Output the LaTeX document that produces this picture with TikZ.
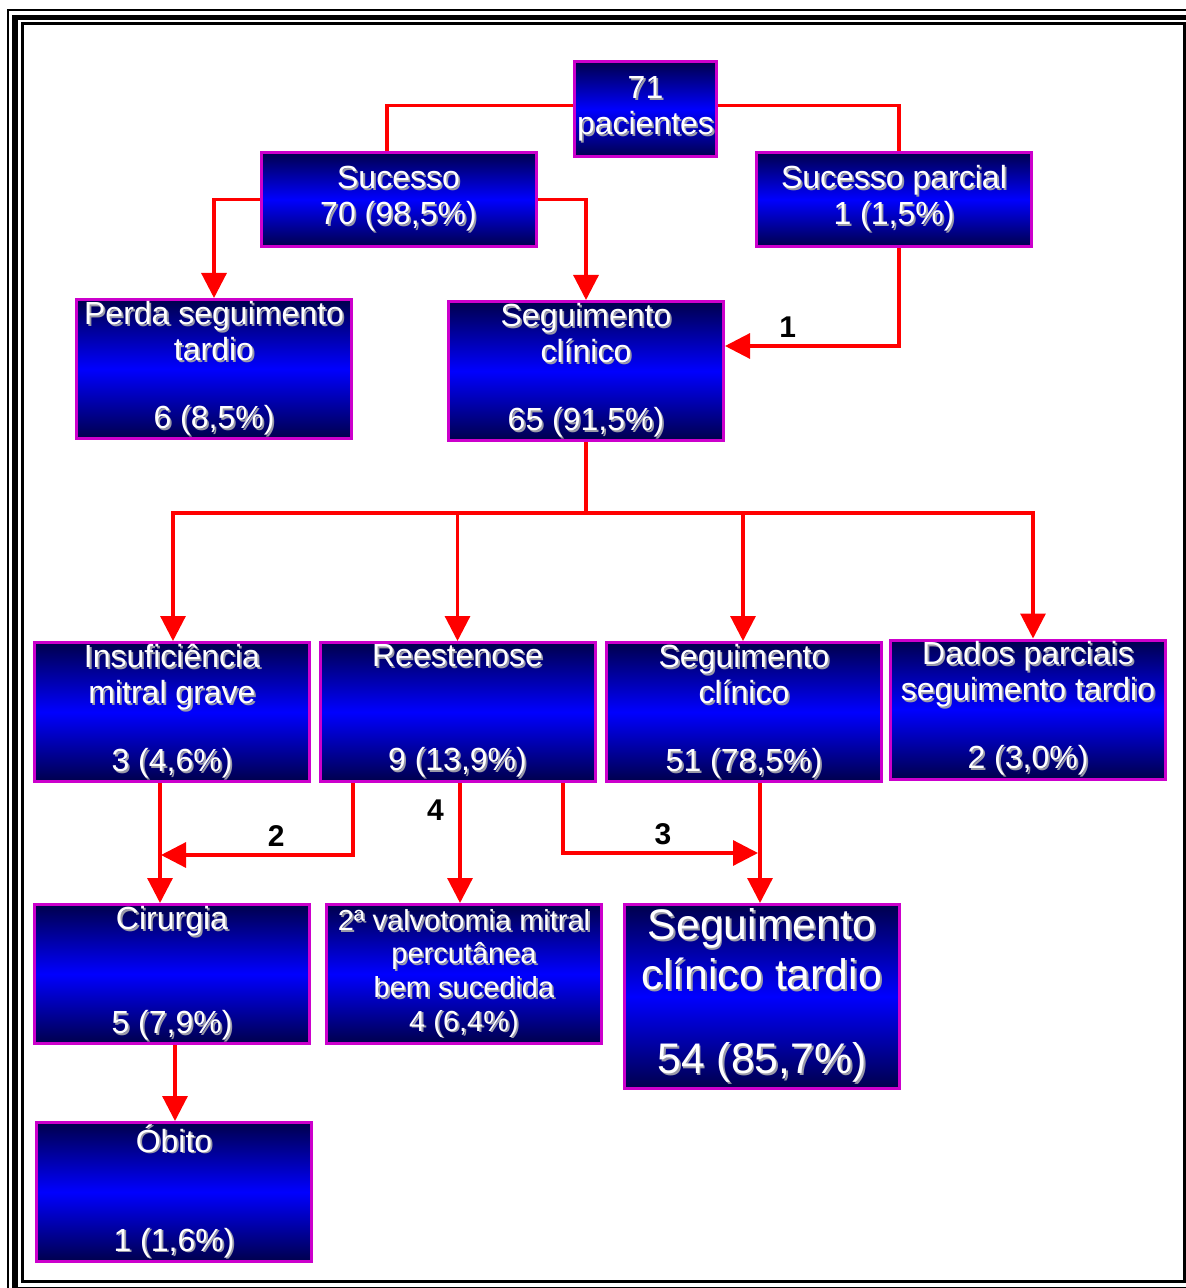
\documentclass[tikz,border=0pt]{standalone}
\usepackage{fontspec}
\setmainfont{Liberation Sans}
\usetikzlibrary{arrows.meta, calc}
\definecolor{boxnavy}{HTML}{00004C}
\definecolor{boxblue}{HTML}{0000FF}
\definecolor{boxrim}{HTML}{CC00CC}
\definecolor{linkred}{HTML}{FF0000}
\definecolor{shadegray}{HTML}{9A9AA8}
% white text with a small grey drop shadow
\newcommand\shd[1]{\rlap{\hspace{0.9pt}\raisebox{-0.9pt}{\color{shadegray}#1}}#1}

\begin{document}
\begin{tikzpicture}[x=0.5pt, y=-0.5pt,
    box/.style={rectangle, draw=boxrim, line width=1.5pt,
                top color=boxnavy, bottom color=boxnavy, middle color=boxblue,
                minimum width=137.5pt, minimum height=69.5pt, inner sep=0pt,
                align=center, text=white, font=\fontsize{16pt}{18pt}\selectfont},
    link/.style={line width=1.6pt, color=linkred},
    arr/.style={link, -{Triangle[length=12.5pt, width=12.5pt]}},
    num/.style={font=\fontsize{15pt}{15pt}\selectfont\bfseries, text=black}
  ]
    \useasboundingbox (0,0) rectangle (1186,1288);

    %% page frame
    \draw[line width=1pt] (8,10) rectangle (1199,1297);
    \draw[line width=2.75pt] (15,17.5) rectangle (1192,1290);
    \draw[line width=1.5pt] (22,24) rectangle (1184.5,1281.5);

    %% top
    \node[box, minimum width=71pt, minimum height=47.5pt] (root) at (645.5,109.5)
        {\shd{71}\\\shd{pacientes}};
    \node[box, minimum height=47pt] (suc) at (398.5,199.5) {\shd{Sucesso}\\\shd{70 (98,5\%)}};
    \node[box, minimum height=47pt] (sucp) at (894,199.5) {\shd{Sucesso parcial}\\\shd{1 (1,5\%)}};
    \node[box] (perda) at (214,369) {\shd{Perda seguimento}\\\shd{tardio}\\[16pt]\shd{6 (8,5\%)}};
    \node[box] (seg) at (586,371) {\shd{Seguimento}\\\shd{clínico}\\[16pt]\shd{65 (91,5\%)}};

    %% second level
    \node[box] (insuf) at (172,712) {\shd{Insuficiência}\\\shd{mitral grave}\\[16pt]\shd{3 (4,6\%)}};
    \node[box] (rees) at (457.5,712) {\shd{Reestenose}\\[34pt]\shd{9 (13,9\%)}};
    \node[box] (seg51) at (744,712) {\shd{Seguimento}\\\shd{clínico}\\[16pt]\shd{51 (78,5\%)}};
    \node[box] (dados) at (1028,709.5) {\shd{Dados parciais}\\\shd{seguimento tardio}\\[16pt]\shd{2 (3,0\%)}};

    %% outcomes
    \node[box] (cir) at (172,974) {\shd{Cirurgia}\\[34pt]\shd{5 (7,9\%)}};
    \node[box, font=\fontsize{14.5pt}{16.8pt}\selectfont] (valv) at (464,974)
        {\shd{2ª valvotomia mitral}\\\shd{percutânea}\\\shd{bem sucedida}\\\shd{4 (6,4\%)}};
    \node[box, minimum height=92pt, font=\fontsize{21.4pt}{25pt}\selectfont] (segt) at (762,996.5)
        {\shd{Seguimento}\\\shd{clínico tardio}\\[17pt]\shd{54 (85,7\%)}};
    \node[box] (obito) at (174,1192) {\shd{Óbito}\\[31.5pt]\shd{1 (1,6\%)}};

    %% connectors
    \draw[link] ($(root.west)+(0,-4)$) -| ($(suc.north)+(-11.5,0)$);
    \draw[link] ($(root.east)+(0,-4)$) -| ($(sucp.north)+(5,0)$);
    \draw[arr] (suc.west) -| (perda.north);
    \draw[arr] (suc.east) -| (seg.north);
    \draw[arr] ($(sucp.south)+(5,0)$) |- ($(seg.east)+(0,-25)$)
        node[num, pos=0.82, above] (n1) {1};

    \coordinate (bus) at (586,513);
    \draw[link] (seg.south) -- (bus);
    \draw[arr] (bus) -| ($(insuf.north)+(1,0)$);
    \draw[arr] (bus) -| (rees.north);
    \draw[arr] (bus) -| ($(seg51.north)+(-1,0)$);
    \draw[arr] (bus) -| ($(dados.north)+(5,0)$);

    \draw[arr] ($(insuf.south)+(-12,0)$) -- ($(cir.north)+(-12,0)$);
    \draw[arr] ($(rees.south)+(-104.5,0)$) |- ($(cir.north)+(-11,-48)$)
        node[num, pos=0.70, above] (n2) {2};
    \draw[arr] ($(rees.south)+(2.5,0)$) -- ($(valv.north)+(-4,0)$)
        node[num, pos=0.23, left=4pt] (n4) {4};
    \draw[arr] ($(rees.south)+(105.5,0)$) |- ($(segt.north)+(-4,-50)$)
        node[num, pos=0.756, above] (n3) {3};
    \draw[arr] ($(seg51.south)+(16,0)$) -- ($(segt.north)+(-2,0)$);
    \draw[arr] ($(cir.south)+(3,0)$) -- ($(obito.north)+(1,0)$);
\end{tikzpicture}
\end{document}
